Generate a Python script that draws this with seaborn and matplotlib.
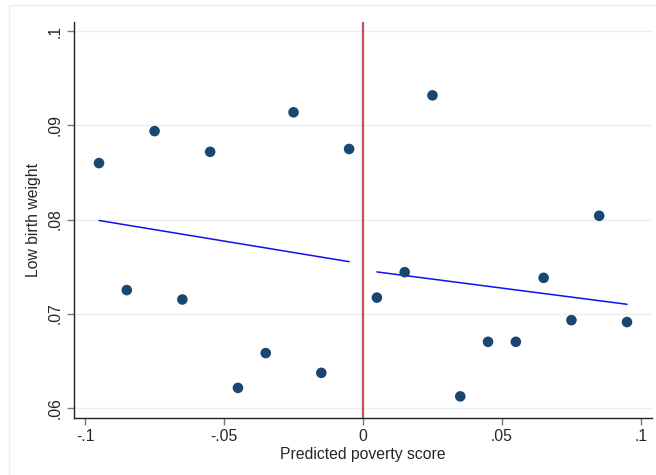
import matplotlib
matplotlib.use("Agg")
import matplotlib.pyplot as plt
from matplotlib.patches import Rectangle
from matplotlib.ticker import FuncFormatter
import seaborn as sns
import pandas as pd

# --- данные ---
left_x = [-0.095, -0.085, -0.075, -0.065, -0.055, -0.045, -0.035, -0.025, -0.015, -0.005]
left_y = [0.0860, 0.0725, 0.0894, 0.0715, 0.0872, 0.0621, 0.0658, 0.0914, 0.0637, 0.0875]
right_x = [0.005, 0.015, 0.025, 0.035, 0.045, 0.055, 0.065, 0.075, 0.085, 0.095]
right_y = [0.0717, 0.0744, 0.0932, 0.0612, 0.0670, 0.0670, 0.0738, 0.0693, 0.0804, 0.0691]
x_ticks = [-0.1, -0.05, 0, 0.05, 0.1]
y_ticks = [0.06, 0.07, 0.08, 0.09, 0.1]


def stata_fmt(v, pos=None):
    s = f"{v:g}"
    if s.startswith("0."):
        s = s[1:]
    elif s.startswith("-0."):
        s = "-" + s[2:]
    return s


def main():
    sns.set_style("white")
    plt.rcParams['font.family'] = ['Liberation Sans', 'DejaVu Sans']

    left = pd.DataFrame({"x": left_x, "y": left_y})
    right = pd.DataFrame({"x": right_x, "y": right_y})

    fig = plt.figure(figsize=(6.56, 4.75), dpi=100)
    # светлая рамка вокруг всего графика (как в Stata)
    fig.patches.append(Rectangle((9 / 656, -0.1), 1.0, 1.1 - 5 / 475,
                                 transform=fig.transFigure, fill=False,
                                 edgecolor="#e8eeee", linewidth=1.0))
    ax = fig.add_axes([74 / 656, 57 / 475, 578 / 656, 396 / 475])

    ax.set_xlim(-0.104, 0.104)
    ax.set_ylim(0.0589, 0.101)

    for yv in y_ticks:
        ax.axhline(yv, color="#eaf0f0", linewidth=1.0, zorder=0)
    ax.axvline(0, color="#c4505c", linewidth=1.6, zorder=1)

    for df in (left, right):
        sns.scatterplot(data=df, x="x", y="y", ax=ax, color="#1a476f",
                        s=58, edgecolor="none", zorder=3)
        sns.regplot(data=df, x="x", y="y", ax=ax, ci=None, scatter=False,
                    line_kws={"color": "#1010f0", "linewidth": 1.1, "zorder": 2})

    ax.set_xticks(x_ticks)
    ax.set_yticks(y_ticks)
    ax.xaxis.set_major_formatter(FuncFormatter(stata_fmt))
    ax.yaxis.set_major_formatter(FuncFormatter(stata_fmt))
    ax.tick_params(axis="both", direction="out", length=5, width=1,
                   color="#777777", labelsize=11.3, pad=3, bottom=True, left=True)
    for lab in ax.get_yticklabels():
        lab.set_rotation(90)
        lab.set_va("center")

    ax.set_xlabel("Predicted poverty score", fontsize=11.3, labelpad=2)
    ax.set_ylabel("Low birth weight", fontsize=11.3, labelpad=5)

    for side in ("top", "right"):
        ax.spines[side].set_visible(False)
    for side in ("left", "bottom"):
        ax.spines[side].set_color("#222222")
        ax.spines[side].set_linewidth(1.0)

    fig.savefig("out.png", dpi=100)


if __name__ == "__main__":
    main()
